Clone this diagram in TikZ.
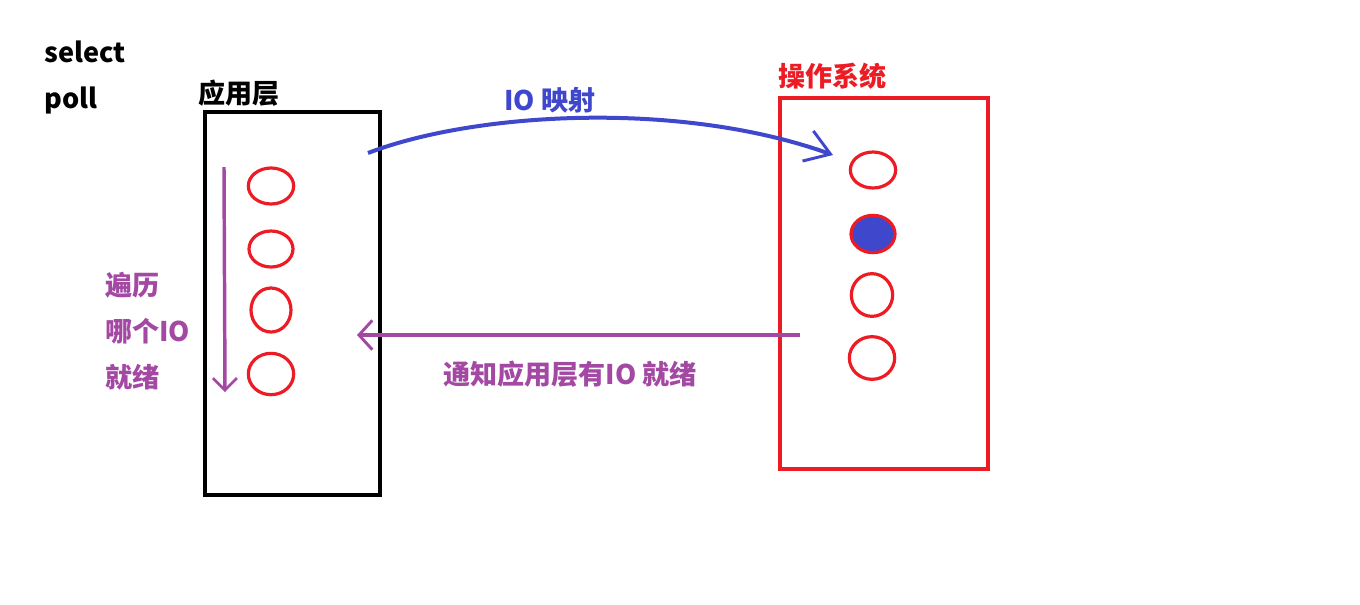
\documentclass[tikz,border=0pt]{standalone}
\usepackage{fontspec}
\setmainfont{Noto Sans CJK SC}
\usetikzlibrary{shapes.geometric,arrows.meta}
\definecolor{myred}{RGB}{237,28,36}
\definecolor{myblue}{RGB}{63,72,204}
\definecolor{mypurple}{RGB}{163,73,164}
\tikzset{
  lbl/.style={font=\bfseries\fontsize{20.3pt}{24pt}\selectfont, inner sep=0pt},
  io/.style={ellipse, draw=myred, line width=2.4pt, inner sep=0pt},
  box/.style={draw, line width=3pt, inner sep=0pt},
}
\begin{document}
\begin{tikzpicture}[x=0.75pt,y=-0.75pt]
\useasboundingbox (0,0) rectangle (1360,604);
% labels
\node[lbl, anchor=west] (sel) at (44,52) {select};
\node[lbl, anchor=west] (poll) at (44,100) {poll};
\node[lbl, anchor=west] (applbl) at (198,93) {应用层};
\node[lbl, anchor=west, text=myred] (oslbl) at (778,76) {操作系统};
% boxes
\node[box, minimum width=131.25pt, minimum height=287.25pt] (app) at (292.5,303.5) {};
\node[box, draw=myred, minimum width=156pt, minimum height=278.25pt] (os) at (884,283.5) {};
% app ellipses
\node[io, minimum width=34pt, minimum height=27pt] (a1) at (271,186) {};
\node[io, minimum width=33pt, minimum height=27pt] (a2) at (271,249) {};
\node[io, minimum width=30pt, minimum height=33pt] (a3) at (271,310) {};
\node[io, minimum width=34pt, minimum height=31pt] (a4) at (271,374) {};
% os ellipses
\node[io, minimum width=34pt, minimum height=27pt] (o1) at (873,170) {};
\node[io, fill=myblue, minimum width=33pt, minimum height=28pt] (o2) at (873,234) {};
\node[io, minimum width=31pt, minimum height=32pt] (o3) at (872,295) {};
\node[io, minimum width=34pt, minimum height=32pt] (o4) at (872,358) {};
% traversal arrow
\coordinate (t0) at (224,167);
\coordinate (t1) at (225,392);
\draw[mypurple, line width=2.6pt, -{Straight Barb[length=9pt, width=18pt, line width=2pt]}] (t0) -- (t1);
\node[lbl, anchor=west, text=mypurple] (bl1) at (105,285) {遍历};
\node[lbl, anchor=west, text=mypurple] (bl2) at (105,331) {哪个IO};
\node[lbl, anchor=west, text=mypurple] (bl3) at (105,377) {就绪};
% IO mapping
\coordinate (m0) at (368,153);
\coordinate (m1) at (833,155);
\draw[myblue, line width=3pt, -{Straight Barb[length=18pt, width=24pt, line width=2.2pt]}] (m0) .. controls (475,112) and (680,100) .. (m1);
\node[lbl, text=myblue] (maplbl) at (550,100) {IO 映射};
% notify
\coordinate (n0) at (800,335);
\coordinate (n1) at (357,335);
\draw[mypurple, line width=3pt, -{Straight Barb[length=10pt, width=22pt, line width=2.2pt]}] (n0) -- (n1);
\node[lbl, anchor=west, text=mypurple] (nlbl) at (443,374) {通知应用层有IO 就绪};
\end{tikzpicture}
\end{document}
